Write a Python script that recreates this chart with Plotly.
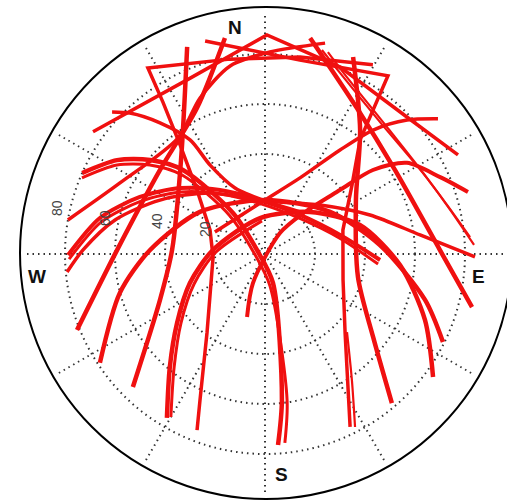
import plotly.graph_objects as go

# ---- sky-plot grid ---------------------------------------------------------
RING_ZENITH = [20, 40, 60, 80]          # dotted rings (zenith angle, deg)
RING_LABELS = ["80", "60", "40", "20"]   # printed outside-in along the west side
COMPASS = ["N", "E", "S", "W"]

# ---- satellite tracks: azimuth (deg, from north, clockwise) / elevation (deg)
trk01_az = [248.0, 271.5, 308.7, 335.0, 349.5]
trk01_el = [8.9, 30.8, 36.2, 25.6, 2.1]

trk02_az = [224.8, 246.3, 272.5, 318.2, 339.4]
trk02_el = [15.0, 44.1, 52.8, 39.6, 1.5]

trk03_az = [139.6, 127.5, 103.9, 59.3, 37.5, 24.1]
trk03_el = [11.7, 35.5, 51.7, 47.7, 27.5, 3.7]

trk04_az = [104.4, 88.7, 57.1, 32.2, 11.8]
trk04_el = [4.5, 20.0, 28.1, 21.0, 1.7]

trk05_az = [29.7, 10.1, 349.8, 327.8, 326.1, 322.1, 313.3, 293.6, 266.7, 216.3, 204.0, 201.1]
trk05_el = [2.9, 10.0, 10.8, 2.1, 16.8, 34.7, 52.6, 66.0, 69.2, 50.8, 26.1, 14.5]

trk06_az = [344.3, 10.2, 34.6, 39.8, 51.6, 72.9, 108.4, 134.6, 153.8]
trk06_el = [1.5, 11.2, 3.4, 30.6, 45.6, 57.4, 57.1, 45.0, 12.9]

trk07_az = [133.6, 145.4, 152.5]
trk07_el = [44.7, 28.8, 12.0]

trk08_az = [305.4, 335.9, 0.5, 21.9, 46.0, 62.8]
trk08_el = [5.6, 13.7, 2.4, 9.4, 11.1, 3.2]

trk09_az = [279.8, 296.1, 323.1, 337.4, 349.5, 1.4, 15.9]
trk09_el = [10.0, 25.4, 32.0, 22.4, 13.5, 9.2, 2.3]

trk10_az = [293.9, 302.4, 309.3, 315.7, 322.0, 296.6, 164.6, 173.4, 176.1]
trk10_el = [10.0, 19.9, 30.6, 43.0, 69.2, 86.4, 78.0, 31.2, 13.4]

trk11_az = [292.6, 301.0, 307.7, 313.6, 317.4, 275.2, 171.1, 171.4, 174.0]
trk11_el = [10.7, 20.9, 31.8, 44.2, 69.3, 85.6, 77.0, 30.9, 14.0]

trk12_az = [73.0, 66.3, 57.3, 52.1, 49.5, 43.6, 35.5, 202.5, 195.9]
trk12_el = [5.1, 13.5, 22.5, 35.3, 50.6, 66.8, 79.7, 77.4, 63.8]

trk13_az = [236.6, 255.0, 272.0, 302.9, 0.0, 57.1, 85.5, 106.0, 116.3]
trk13_el = [10.9, 29.9, 44.0, 59.0, 68.4, 59.0, 43.9, 23.4, 10.6]

trk14_az = [210.9, 220.1, 231.9, 248.9, 274.4, 352.1, 47.0, 73.0, 94.7, 112.4, 126.2]
trk14_el = [13.6, 30.9, 45.3, 57.8, 69.1, 75.5, 65.4, 50.3, 35.8, 20.8, 6.7]

trk15_az = [210.0, 218.8, 230.6, 247.1, 272.3, 354.8]
trk15_el = [14.7, 32.0, 46.5, 59.2, 70.4, 76.7]

trk16_az = [269.7, 282.3, 294.5, 307.8, 324.9, 354.7, 41.9, 75.8, 93.0]
trk16_el = [11.2, 22.4, 35.0, 47.0, 58.7, 68.3, 69.0, 59.0, 43.9]

trk17_az = [268.5, 281.0, 293.1, 306.4, 323.7, 355.4, 45.8, 78.8, 95.1]
trk17_el = [11.6, 23.2, 36.1, 48.2, 60.2, 69.9, 69.9, 59.0, 44.6]

trk18_az = [264.8, 271.3, 282.8, 297.2, 318.0, 0.0, 48.3, 69.6, 83.0, 90.8]
trk18_el = [10.5, 17.2, 28.5, 42.8, 57.1, 68.8, 60.5, 45.2, 27.5, 6.0]

trk19_az = [15.6, 22.5, 41.1, 62.9, 74.9, 85.3]
trk19_el = [5.3, 11.6, 20.0, 19.0, 14.6, 7.7]

trk20_az = [17.3, 24.5, 43.4, 64.9, 77.0, 87.5]
trk20_el = [5.4, 11.8, 19.5, 18.4, 13.6, 6.3]

trk21_az = [52.0, 46.7, 41.1, 35.8, 24.7, 0.0, 293.7]
trk21_el = [2.2, 11.9, 24.2, 38.7, 56.5, 68.4, 68.1]

trk22_az = [312.9, 316.2, 321.3, 326.7, 328.3, 335.6, 0.0, 39.8]
trk22_el = [6.5, 11.9, 22.8, 35.4, 48.2, 61.0, 68.8, 68.1]

tracks = [
    (trk01_az, trk01_el), (trk02_az, trk02_el), (trk03_az, trk03_el),
    (trk04_az, trk04_el), (trk05_az, trk05_el), (trk06_az, trk06_el),
    (trk07_az, trk07_el), (trk08_az, trk08_el), (trk09_az, trk09_el),
    (trk10_az, trk10_el), (trk11_az, trk11_el), (trk12_az, trk12_el),
    (trk13_az, trk13_el), (trk14_az, trk14_el), (trk15_az, trk15_el),
    (trk16_az, trk16_el), (trk17_az, trk17_el), (trk18_az, trk18_el),
    (trk19_az, trk19_el), (trk20_az, trk20_el), (trk21_az, trk21_el),
    (trk22_az, trk22_el),
]

# stroke widths per track (px)
widths = [4.5, 4.5, 4.5, 4.5, 3.5, 3.5, 2.2, 3.5, 3.5, 4.5, 3.0,
          4.0, 4.5, 4.5, 3.0, 4.0, 3.0, 3.5, 2.2, 2.2, 3.5, 3.5]
# tracks with a sharp turn near the horizon are drawn with straight segments
sharp = {4, 5, 7}

W, H = 507, 504
CX, CY = 265, 254          # sky-plot centre (px)
PX_PER_DEG = 2.5
R_MAX = 96.8               # radial extent of the spokes (deg of zenith angle)
RED = "#f01010"

fig = go.Figure()
for i, ((az, el), w) in enumerate(zip(tracks, widths)):
    shape = dict(shape="linear") if i in sharp else dict(shape="spline", smoothing=0.8)
    fig.add_trace(go.Scatterpolar(
        r=[90 - e for e in el], theta=az, mode="lines",
        line=dict(color=RED, width=w, **shape),
        hoverinfo="skip", showlegend=False))

half = R_MAX * PX_PER_DEG
fig.update_layout(
    width=W, height=H,
    margin=dict(l=0, r=0, t=0, b=0),
    paper_bgcolor="white",
    showlegend=False,
    polar=dict(
        domain=dict(x=[(CX - half) / W, min(1.0, (CX + half) / W)],
                    y=[1 - (CY + half) / H, 1 - (CY - half) / H]),
        bgcolor="white",
        radialaxis=dict(range=[0, R_MAX], tickvals=RING_ZENITH,
                        showticklabels=False, ticks="", showline=False,
                        gridcolor="#333333", gridwidth=1.5,
                        griddash="1.5px,4px"),
        angularaxis=dict(rotation=90, direction="clockwise", dtick=30,
                         showticklabels=False, ticks="", showline=False,
                         gridcolor="#333333", gridwidth=1.5,
                         griddash="1.5px,4px"),
    ),
)

# outer frame circle
OX, OY, OR = 266, 253, 246
fig.add_shape(type="circle", xref="paper", yref="paper",
              x0=(OX - OR) / W, x1=(OX + OR) / W,
              y0=1 - (OY + OR) / H, y1=1 - (OY - OR) / H,
              line=dict(color="black", width=2))

# compass letters
compass_px = [(235, 27), (478, 276), (281, 474), (37, 276)]
for txt, (px, py) in zip(COMPASS, compass_px):
    fig.add_annotation(x=px / W, y=1 - py / H, xref="paper", yref="paper",
                       text=f"<b>{txt}</b>", showarrow=False,
                       font=dict(family="Liberation Sans, Arial", size=19,
                                 color="#111111"),
                       xanchor="center", yanchor="middle")

# ring labels, rotated along the west side
ring_px = [(57, 208), (105, 218), (157, 221), (205, 229)]
for txt, (px, py) in zip(RING_LABELS, ring_px):
    fig.add_annotation(x=px / W, y=1 - py / H, xref="paper", yref="paper",
                       text=txt, textangle=-90, showarrow=False,
                       font=dict(family="Liberation Sans, Arial", size=14,
                                 color="#444444"),
                       xanchor="center", yanchor="middle")

fig.write_html("out.html")
